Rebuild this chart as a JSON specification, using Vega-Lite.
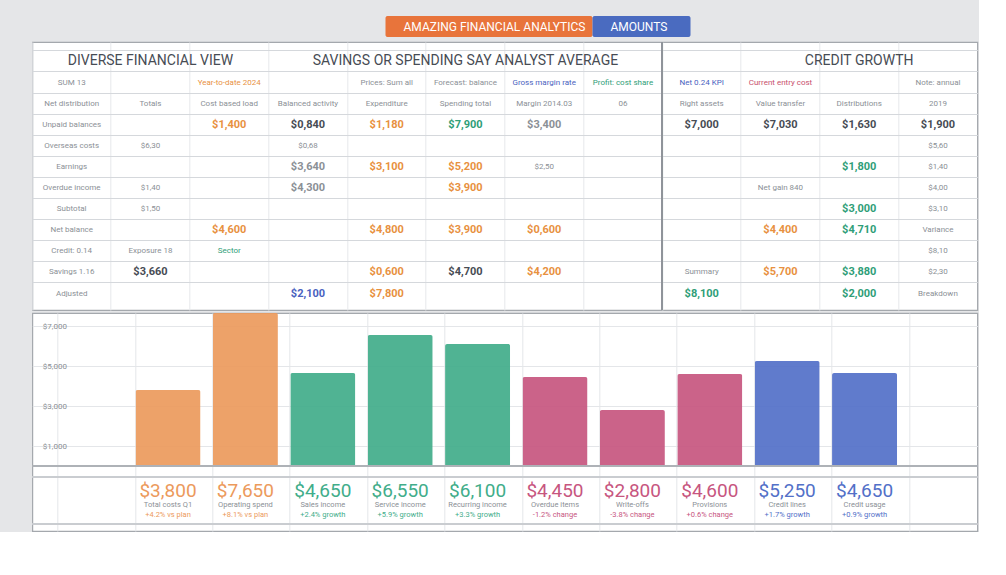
{
  "$schema": "https://vega.github.io/schema/vega-lite/v6.json",
  "background": "#e5e6e8",
  "padding": {"left": 30, "top": 16, "right": 0, "bottom": 0},
  "config": {
    "font": "Roboto",
    "view": {"fill": "white", "stroke": "#a4a8ad", "strokeWidth": 1.2},
    "text": {"font": "Roboto"}
  },
  "datasets": {
    "banner": [
      {"segment": "AMAZING FINANCIAL ANALYTICS", "from": 0, "to": 207},
      {"segment": "AMOUNTS", "from": 207, "to": 305}
    ],
    "bars": [
      {"month": "Jan", "group": "Operations", "value": 3800, "note": "Total costs Q1", "delta": "+4.2% vs plan"},
      {"month": "Feb", "group": "Operations", "value": 7650, "note": "Operating spend", "delta": "+8.1% vs plan"},
      {"month": "Mar", "group": "Revenue", "value": 4650, "note": "Sales income", "delta": "+2.4% growth"},
      {"month": "Apr", "group": "Revenue", "value": 6550, "note": "Service income", "delta": "+5.9% growth"},
      {"month": "May", "group": "Revenue", "value": 6100, "note": "Recurring income", "delta": "+3.3% growth"},
      {"month": "Jun", "group": "Risk", "value": 4450, "note": "Overdue items", "delta": "-1.2% change"},
      {"month": "Jul", "group": "Risk", "value": 2800, "note": "Write-offs", "delta": "-3.8% change"},
      {"month": "Aug", "group": "Risk", "value": 4600, "note": "Provisions", "delta": "+0.6% change"},
      {"month": "Sep", "group": "Credit", "value": 5250, "note": "Credit lines", "delta": "+1.7% growth"},
      {"month": "Oct", "group": "Credit", "value": 4650, "note": "Credit usage", "delta": "+0.9% growth"}
    ],
    "cells": [
      {"col": "c2", "row": "r1", "kind": "h", "cat": "dark", "text": "DIVERSE FINANCIAL VIEW"},
      {"col": "c6", "row": "r1", "kind": "h", "cat": "dark", "text": "SAVINGS OR SPENDING SAY ANALYST AVERAGE"},
      {"col": "c11", "row": "r1", "kind": "h", "cat": "dark", "text": "CREDIT GROWTH"},
      {"col": "c1", "row": "r2", "kind": "s", "cat": "muted", "text": "SUM 13"},
      {"col": "c3", "row": "r2", "kind": "s", "cat": "cost", "text": "Year-to-date 2024"},
      {"col": "c5", "row": "r2", "kind": "s", "cat": "muted", "text": "Prices: Sum all"},
      {"col": "c6", "row": "r2", "kind": "s", "cat": "muted", "text": "Forecast: balance"},
      {"col": "c7", "row": "r2", "kind": "s", "cat": "credit", "text": "Gross margin rate"},
      {"col": "c8", "row": "r2", "kind": "s", "cat": "income", "text": "Profit: cost share"},
      {"col": "c9", "row": "r2", "kind": "s", "cat": "credit", "text": "Net 0.24 KPI"},
      {"col": "c10", "row": "r2", "kind": "s", "cat": "risk", "text": "Current entry cost"},
      {"col": "c12", "row": "r2", "kind": "s", "cat": "muted", "text": "Note: annual"},
      {"col": "c1", "row": "r3", "kind": "s", "cat": "muted", "text": "Net distribution"},
      {"col": "c2", "row": "r3", "kind": "s", "cat": "muted", "text": "Totals"},
      {"col": "c3", "row": "r3", "kind": "s", "cat": "muted", "text": "Cost based load"},
      {"col": "c4", "row": "r3", "kind": "s", "cat": "muted", "text": "Balanced activity"},
      {"col": "c5", "row": "r3", "kind": "s", "cat": "muted", "text": "Expenditure"},
      {"col": "c6", "row": "r3", "kind": "s", "cat": "muted", "text": "Spending total"},
      {"col": "c7", "row": "r3", "kind": "s", "cat": "muted", "text": "Margin 2014.03"},
      {"col": "c8", "row": "r3", "kind": "s", "cat": "muted", "text": "06"},
      {"col": "c9", "row": "r3", "kind": "s", "cat": "muted", "text": "Right assets"},
      {"col": "c10", "row": "r3", "kind": "s", "cat": "muted", "text": "Value transfer"},
      {"col": "c11", "row": "r3", "kind": "s", "cat": "muted", "text": "Distributions"},
      {"col": "c12", "row": "r3", "kind": "s", "cat": "muted", "text": "2019"},
      {"col": "c1", "row": "r4", "kind": "s", "cat": "muted", "text": "Unpaid balances"},
      {"col": "c3", "row": "r4", "kind": "v", "cat": "cost", "text": "$1,400"},
      {"col": "c4", "row": "r4", "kind": "v", "cat": "dark", "text": "$0,840"},
      {"col": "c5", "row": "r4", "kind": "v", "cat": "cost", "text": "$1,180"},
      {"col": "c6", "row": "r4", "kind": "v", "cat": "income", "text": "$7,900"},
      {"col": "c7", "row": "r4", "kind": "v", "cat": "muted", "text": "$3,400"},
      {"col": "c9", "row": "r4", "kind": "v", "cat": "dark", "text": "$7,000"},
      {"col": "c10", "row": "r4", "kind": "v", "cat": "dark", "text": "$7,030"},
      {"col": "c11", "row": "r4", "kind": "v", "cat": "dark", "text": "$1,630"},
      {"col": "c12", "row": "r4", "kind": "v", "cat": "dark", "text": "$1,900"},
      {"col": "c1", "row": "r5", "kind": "s", "cat": "muted", "text": "Overseas costs"},
      {"col": "c2", "row": "r5", "kind": "s", "cat": "muted", "text": "$6,30"},
      {"col": "c4", "row": "r5", "kind": "s", "cat": "muted", "text": "$0,68"},
      {"col": "c12", "row": "r5", "kind": "s", "cat": "muted", "text": "$5,60"},
      {"col": "c1", "row": "r6", "kind": "s", "cat": "muted", "text": "Earnings"},
      {"col": "c4", "row": "r6", "kind": "v", "cat": "muted", "text": "$3,640"},
      {"col": "c5", "row": "r6", "kind": "v", "cat": "cost", "text": "$3,100"},
      {"col": "c6", "row": "r6", "kind": "v", "cat": "cost", "text": "$5,200"},
      {"col": "c7", "row": "r6", "kind": "s", "cat": "muted", "text": "$2,50"},
      {"col": "c11", "row": "r6", "kind": "v", "cat": "income", "text": "$1,800"},
      {"col": "c12", "row": "r6", "kind": "s", "cat": "muted", "text": "$1,40"},
      {"col": "c1", "row": "r7", "kind": "s", "cat": "muted", "text": "Overdue income"},
      {"col": "c2", "row": "r7", "kind": "s", "cat": "muted", "text": "$1,40"},
      {"col": "c4", "row": "r7", "kind": "v", "cat": "muted", "text": "$4,300"},
      {"col": "c6", "row": "r7", "kind": "v", "cat": "cost", "text": "$3,900"},
      {"col": "c10", "row": "r7", "kind": "s", "cat": "muted", "text": "Net gain 840"},
      {"col": "c12", "row": "r7", "kind": "s", "cat": "muted", "text": "$4,00"},
      {"col": "c1", "row": "r8", "kind": "s", "cat": "muted", "text": "Subtotal"},
      {"col": "c2", "row": "r8", "kind": "s", "cat": "muted", "text": "$1,50"},
      {"col": "c11", "row": "r8", "kind": "v", "cat": "income", "text": "$3,000"},
      {"col": "c12", "row": "r8", "kind": "s", "cat": "muted", "text": "$3,10"},
      {"col": "c1", "row": "r9", "kind": "s", "cat": "muted", "text": "Net balance"},
      {"col": "c3", "row": "r9", "kind": "v", "cat": "cost", "text": "$4,600"},
      {"col": "c5", "row": "r9", "kind": "v", "cat": "cost", "text": "$4,800"},
      {"col": "c6", "row": "r9", "kind": "v", "cat": "cost", "text": "$3,900"},
      {"col": "c7", "row": "r9", "kind": "v", "cat": "cost", "text": "$0,600"},
      {"col": "c10", "row": "r9", "kind": "v", "cat": "cost", "text": "$4,400"},
      {"col": "c11", "row": "r9", "kind": "v", "cat": "income", "text": "$4,710"},
      {"col": "c12", "row": "r9", "kind": "s", "cat": "muted", "text": "Variance"},
      {"col": "c1", "row": "r10", "kind": "s", "cat": "muted", "text": "Credit: 0.14"},
      {"col": "c2", "row": "r10", "kind": "s", "cat": "muted", "text": "Exposure 18"},
      {"col": "c3", "row": "r10", "kind": "s", "cat": "income", "text": "Sector"},
      {"col": "c12", "row": "r10", "kind": "s", "cat": "muted", "text": "$8,10"},
      {"col": "c1", "row": "r11", "kind": "s", "cat": "muted", "text": "Savings 1.16"},
      {"col": "c2", "row": "r11", "kind": "v", "cat": "dark", "text": "$3,660"},
      {"col": "c5", "row": "r11", "kind": "v", "cat": "cost", "text": "$0,600"},
      {"col": "c6", "row": "r11", "kind": "v", "cat": "dark", "text": "$4,700"},
      {"col": "c7", "row": "r11", "kind": "v", "cat": "cost", "text": "$4,200"},
      {"col": "c9", "row": "r11", "kind": "s", "cat": "muted", "text": "Summary"},
      {"col": "c10", "row": "r11", "kind": "v", "cat": "cost", "text": "$5,700"},
      {"col": "c11", "row": "r11", "kind": "v", "cat": "income", "text": "$3,880"},
      {"col": "c12", "row": "r11", "kind": "s", "cat": "muted", "text": "$2,30"},
      {"col": "c1", "row": "r12", "kind": "s", "cat": "muted", "text": "Adjusted"},
      {"col": "c4", "row": "r12", "kind": "v", "cat": "credit", "text": "$2,100"},
      {"col": "c5", "row": "r12", "kind": "v", "cat": "cost", "text": "$7,800"},
      {"col": "c9", "row": "r12", "kind": "v", "cat": "income", "text": "$8,100"},
      {"col": "c11", "row": "r12", "kind": "v", "cat": "income", "text": "$2,000"},
      {"col": "c12", "row": "r12", "kind": "s", "cat": "muted", "text": "Breakdown"}
    ]
  },
  "resolve": {"scale": {"color": "independent"}},
  "vconcat": [
    {
      "width": 370,
      "height": 21,
      "view": {"stroke": null, "fill": null},
      "data": {"name": "banner"},
      "encoding": {
        "y": {"datum": "banner", "type": "nominal", "scale": {"paddingInner": 0, "paddingOuter": 0}, "axis": null}
      },
      "layer": [
        {
          "mark": {"type": "bar", "cornerRadius": 2},
          "encoding": {
            "x": {"field": "from", "type": "quantitative", "scale": {"domain": [-65, 305], "nice": false, "zero": false}, "axis": null},
            "x2": {"field": "to"},
            "color": {"field": "segment", "type": "nominal", "scale": {"domain": ["AMAZING FINANCIAL ANALYTICS", "AMOUNTS"], "range": ["#e8743b", "#4a6bc0"]}, "legend": null}
          }
        },
        {
          "mark": {"type": "text", "align": "left", "dx": 18, "fontSize": 12, "color": "white"},
          "encoding": {
            "x": {"field": "from", "type": "quantitative"},
            "text": {"field": "segment"}
          }
        }
      ]
    },
    {
      "spacing": 0,
      "resolve": {"scale": {"color": "independent"}},
      "vconcat": [
        {
          "width": 945,
          "height": 268,
          "data": {"name": "cells"},
          "encoding": {
            "x": {"field": "col", "type": "ordinal", "scale": {"type": "band", "domain": ["c1","c2","c3","c4","c5","c6","c7","c8","c9","c10","c11","c12"], "paddingInner": 0, "paddingOuter": 0}, "axis": {"labels": false, "ticks": false, "domain": false, "title": null, "grid": true, "gridColor": "#e6e8eb", "bandPosition": 0}},
            "y": {"field": "row", "type": "ordinal", "scale": {"type": "band", "domain": ["r1","r2","r3","r4","r5","r6","r7","r8","r9","r10","r11","r12"], "paddingInner": 0, "paddingOuter": 0.35, "align": 0.6}, "axis": {"labels": false, "ticks": false, "domain": false, "title": null, "grid": true, "gridColor": "#d5d8dc", "bandPosition": 0}}
          },
          "layer": [
            {
              "mark": {"type": "rule", "color": "#8f949a", "strokeWidth": 1.2},
              "encoding": {"x": {"datum": "c9", "bandPosition": 0}, "y": null}
            },
            {
              "transform": [{"filter": "datum.kind === 'h'"}],
              "mark": {"type": "text", "fontSize": 14},
              "encoding": {
                "text": {"field": "text"},
                "color": {"field": "cat", "type": "nominal", "scale": {"domain": ["dark", "muted", "cost", "income", "credit", "risk"], "range": ["#474c54", "#8b9096", "#e8913f", "#2f9e78", "#4a62c0", "#c8506e"]}, "legend": null}
              }
            },
            {
              "transform": [{"filter": "datum.kind === 's'"}],
              "mark": {"type": "text", "fontSize": 8},
              "encoding": {
                "text": {"field": "text"},
                "color": {"field": "cat", "type": "nominal", "legend": null}
              }
            },
            {
              "transform": [{"filter": "datum.kind === 'v'"}],
              "mark": {"type": "text", "fontSize": 11, "fontWeight": "bold"},
              "encoding": {
                "text": {"field": "text"},
                "color": {"field": "cat", "type": "nominal", "legend": null}
              }
            }
          ]
        },
        {
          "width": 945,
          "height": 218,
          "data": {"name": "bars"},
          "encoding": {
            "x": {"field": "month", "type": "ordinal", "sort": null, "scale": {"domain": ["_start", "Jan", "Feb", "Mar", "Apr", "May", "Jun", "Jul", "Aug", "Sep", "Oct", "_end"], "paddingInner": 0.16, "paddingOuter": 0.185, "align": 0.9}, "axis": {"labels": false, "ticks": false, "domain": false, "title": null, "grid": true, "gridColor": "#e4e6e9", "bandPosition": 0}}
          },
          "layer": [
            {
              "mark": {"type": "bar", "opacity": 0.92, "cornerRadiusTopLeft": 2, "cornerRadiusTopRight": 2},
              "encoding": {
                "y": {"field": "value", "type": "quantitative", "scale": {"domain": [-3250, 7650], "nice": false, "zero": false}, "axis": {"values": [1000, 2000, 3000, 4000, 5000, 6000, 7000], "format": "$,.0f", "labelAlign": "left", "labelPadding": -10, "ticks": false, "domain": false, "title": null, "labelFontSize": 8, "labelColor": "#8b9096", "gridColor": "#e4e6e9"}},
                "color": {"field": "group", "type": "nominal", "scale": {"domain": ["Operations", "Revenue", "Risk", "Credit"], "range": ["#ec9a5c", "#41ad8a", "#c7567f", "#5270c8"]}, "legend": null}
              }
            },
            {
              "mark": {"type": "rule", "color": "#aeb2b7", "strokeWidth": 1.5},
              "encoding": {"y": {"datum": 0, "type": "quantitative"}, "x": null}
            },
            {
              "mark": {"type": "rule", "color": "#c9ccd0", "strokeWidth": 1},
              "encoding": {"y": {"datum": -550, "type": "quantitative"}, "x": null}
            },
            {
              "mark": {"type": "rule", "color": "#c9ccd0", "strokeWidth": 1},
              "encoding": {"y": {"datum": -2900, "type": "quantitative"}, "x": null}
            },
            {
              "mark": {"type": "text", "fontSize": 19, "baseline": "middle"},
              "encoding": {
                "y": {"datum": -1250, "type": "quantitative"},
                "text": {"field": "value", "type": "quantitative", "format": "$,.0f"},
                "color": {"field": "group", "type": "nominal", "legend": null}
              }
            },
            {
              "mark": {"type": "text", "fontSize": 7.5, "color": "#8b9096"},
              "encoding": {
                "y": {"datum": -1950, "type": "quantitative"},
                "text": {"field": "note"}
              }
            },
            {
              "mark": {"type": "text", "fontSize": 7.5},
              "encoding": {
                "y": {"datum": -2450, "type": "quantitative"},
                "text": {"field": "delta"},
                "color": {"field": "group", "type": "nominal", "legend": null}
              }
            }
          ]
        }
      ]
    }
  ],
  "center": true,
  "spacing": 3
}
